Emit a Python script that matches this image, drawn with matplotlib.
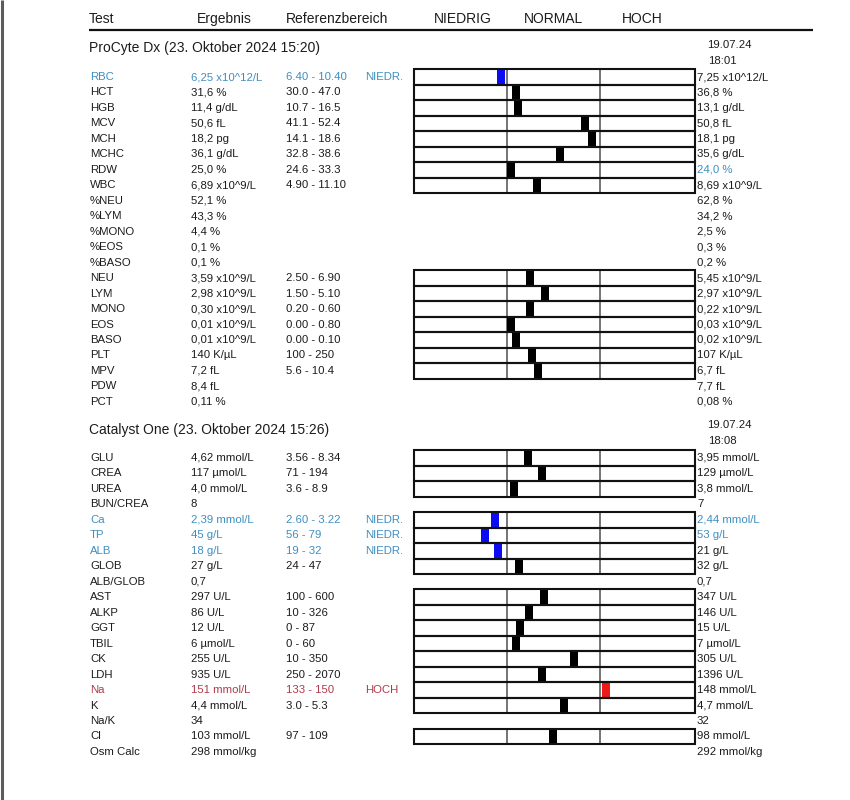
import matplotlib
matplotlib.use("Agg")
import matplotlib.pyplot as plt
from matplotlib.patches import Rectangle

plt.rcParams['font.family'] = ['Liberation Sans', 'DejaVu Sans']

# ---------------- data ----------------
header_labels = ["Test", "Ergebnis", "Referenzbereich", "NIEDRIG", "NORMAL", "HOCH"]

procyte_title = "ProCyte Dx (23. Oktober 2024 15:20)"
procyte_prev_stamp = ["19.07.24", "18:01"]
procyte_tests = ["RBC", "HCT", "HGB", "MCV", "MCH", "MCHC", "RDW", "WBC",
                 "%NEU", "%LYM", "%MONO", "%EOS", "%BASO",
                 "NEU", "LYM", "MONO", "EOS", "BASO", "PLT", "MPV", "PDW", "PCT"]
procyte_results = ["6,25", "31,6", "11,4", "50,6", "18,2", "36,1", "25,0", "6,89",
                   "52,1", "43,3", "4,4", "0,1", "0,1",
                   "3,59", "2,98", "0,30", "0,01", "0,01", "140", "7,2", "8,4", "0,11"]
procyte_units = ["x10^12/L", "%", "g/dL", "fL", "pg", "g/dL", "%", "x10^9/L",
                 "%", "%", "%", "%", "%",
                 "x10^9/L", "x10^9/L", "x10^9/L", "x10^9/L", "x10^9/L", "K/µL", "fL", "fL", "%"]
procyte_refs = ["6.40 - 10.40", "30.0 - 47.0", "10.7 - 16.5", "41.1 - 52.4", "14.1 - 18.6",
                "32.8 - 38.6", "24.6 - 33.3", "4.90 - 11.10",
                "", "", "", "", "",
                "2.50 - 6.90", "1.50 - 5.10", "0.20 - 0.60", "0.00 - 0.80", "0.00 - 0.10",
                "100 - 250", "5.6 - 10.4", "", ""]
procyte_prev = ["7,25", "36,8", "13,1", "50,8", "18,1", "35,6", "24,0", "8,69",
                "62,8", "34,2", "2,5", "0,3", "0,2",
                "5,45", "2,97", "0,22", "0,03", "0,02", "107", "6,7", "7,7", "0,08"]

catalyst_title = "Catalyst One (23. Oktober 2024 15:26)"
catalyst_prev_stamp = ["19.07.24", "18:08"]
catalyst_tests = ["GLU", "CREA", "UREA", "BUN/CREA", "Ca", "TP", "ALB", "GLOB", "ALB/GLOB",
                  "AST", "ALKP", "GGT", "TBIL", "CK", "LDH", "Na", "K", "Na/K", "Cl", "Osm Calc"]
catalyst_results = ["4,62", "117", "4,0", "8", "2,39", "45", "18", "27", "0,7",
                    "297", "86", "12", "6", "255", "935", "151", "4,4", "34", "103", "298"]
catalyst_units = ["mmol/L", "µmol/L", "mmol/L", "", "mmol/L", "g/L", "g/L", "g/L", "",
                  "U/L", "U/L", "U/L", "µmol/L", "U/L", "U/L", "mmol/L", "mmol/L", "", "mmol/L", "mmol/kg"]
catalyst_refs = ["3.56 - 8.34", "71 - 194", "3.6 - 8.9", "", "2.60 - 3.22", "56 - 79", "19 - 32",
                 "24 - 47", "", "100 - 600", "10 - 326", "0 - 87", "0 - 60", "10 - 350",
                 "250 - 2070", "133 - 150", "3.0 - 5.3", "", "97 - 109", ""]
catalyst_prev = ["3,95", "129", "3,8", "7", "2,44", "53", "21", "32", "0,7",
                 "347", "146", "15", "7", "305", "1396", "148", "4,7", "32", "98", "292"]

flag_text = {"low": "NIEDR.", "high": "HOCH"}

# ---------------- style ----------------
TXT = "#1c1c1c"
BLUE_TXT = "#3f8ec0"
RED_TXT = "#b03a4a"
BLUE_MARK = "#0c0cf2"
RED_MARK = "#ee1a1a"
GRID_GRAY = "#747474"

X_TEST, X_RES, X_REF, X_FLAG = 90, 191, 286, 365.5
BOX_L, DIV1, DIV2, BOX_R = 414, 507, 600, 695
X_PREV, X_STAMP = 697, 707
ROW_H = 15.47
FS = 8.2
FS_BIG = 10

fig = plt.figure(figsize=(8.5, 8), dpi=100)
ax = fig.add_axes([0, 0, 1, 1])
ax.set_xlim(0, 850)
ax.set_ylim(800, 0)
ax.axis("off")

# left page edge
ax.plot([2.5, 2.5], [0, 800], color="#5c5c5c", lw=2.2, solid_capstyle="butt")

# header
for lab, x in zip(header_labels, [89, 196.5, 285.7, 434.3, 524.3, 621.7]):
    ax.text(x, 19, lab, fontsize=FS_BIG, color=TXT, va="center", ha="left")
ax.plot([89, 813], [30, 30], color="#111111", lw=1.6, solid_capstyle="butt")


def num(s):
    return float(s.replace(",", "."))


def status(v, lo, hi):
    if v < lo:
        return "low"
    if v > hi:
        return "high"
    return "normal"


def marker_center(v, lo, hi):
    st = status(v, lo, hi)
    if st == "low":
        x = BOX_L + (v / lo) * (DIV1 - BOX_L) if lo else DIV1
        return min(x - 4, DIV1 - 4)
    if st == "high":
        x = DIV2 + (v - hi) / (hi - lo) * (BOX_R - DIV2)
        return min(max(x, DIV2 + 4), BOX_R - 4)
    x = DIV1 + (v - lo) / (hi - lo) * (DIV2 - DIV1)
    return min(max(x, DIV1 + 4), DIV2 - 4)


def draw_section(title, stamp, tests, results, units, refs, prev, y_title, y_stamp, y0):
    ax.text(89, y_title, title, fontsize=FS_BIG, color=TXT, va="center", ha="left")
    ax.text(X_STAMP, y_stamp, stamp[0], fontsize=FS, color=TXT, va="center", ha="left")
    ax.text(X_STAMP + 1, y_stamp + 16, stamp[1], fontsize=FS, color=TXT, va="center", ha="left")
    for i, (t, r, u, ref, p) in enumerate(zip(tests, results, units, refs, prev)):
        y = y0 + i * ROW_H
        v = num(r)
        pv = num(p)
        color = TXT
        pcolor = TXT
        st = "normal"
        if ref:
            lo, hi = [float(s) for s in ref.split(" - ")]
            st = status(v, lo, hi)
            color = {"low": BLUE_TXT, "high": RED_TXT}.get(st, TXT)
            pcolor = {"low": BLUE_TXT, "high": RED_TXT}.get(status(pv, lo, hi), TXT)
        ax.text(X_TEST, y, t, fontsize=FS, color=color, va="center", ha="left")
        ax.text(X_RES, y, (r + " " + u).strip(), fontsize=FS, color=color, va="center", ha="left")
        if ref:
            ax.text(X_REF, y, ref, fontsize=FS, color=color, va="center", ha="left")
            if st in flag_text:
                ax.text(X_FLAG, y, flag_text[st], fontsize=FS, color=color, va="center", ha="left")
            top, bot = y - ROW_H / 2, y + ROW_H / 2
            # gray dividers
            for xd in (DIV1, DIV2):
                ax.plot([xd, xd], [top, bot], color=GRID_GRAY, lw=1.4, solid_capstyle="butt", zorder=2)
            # marker
            c = marker_center(v, lo, hi)
            mcol = {"low": BLUE_MARK, "high": RED_MARK}.get(st, "black")
            ax.add_patch(Rectangle((c - 4, top + 0.6), 8, ROW_H - 1.2, facecolor=mcol,
                                   edgecolor="none", zorder=3))
            # box outline
            ax.add_patch(Rectangle((BOX_L, top), BOX_R - BOX_L, ROW_H, facecolor="none",
                                   edgecolor="#111111", lw=1.5, zorder=4))
        ax.text(X_PREV, y, (p + " " + u).strip(), fontsize=FS, color=pcolor, va="center", ha="left")


draw_section(procyte_title, procyte_prev_stamp, procyte_tests, procyte_results, procyte_units,
             procyte_refs, procyte_prev, 48, 45, 77)
draw_section(catalyst_title, catalyst_prev_stamp, catalyst_tests, catalyst_results, catalyst_units,
             catalyst_refs, catalyst_prev, 430, 425, 458)

fig.savefig("out.png", dpi=100, facecolor="white")
